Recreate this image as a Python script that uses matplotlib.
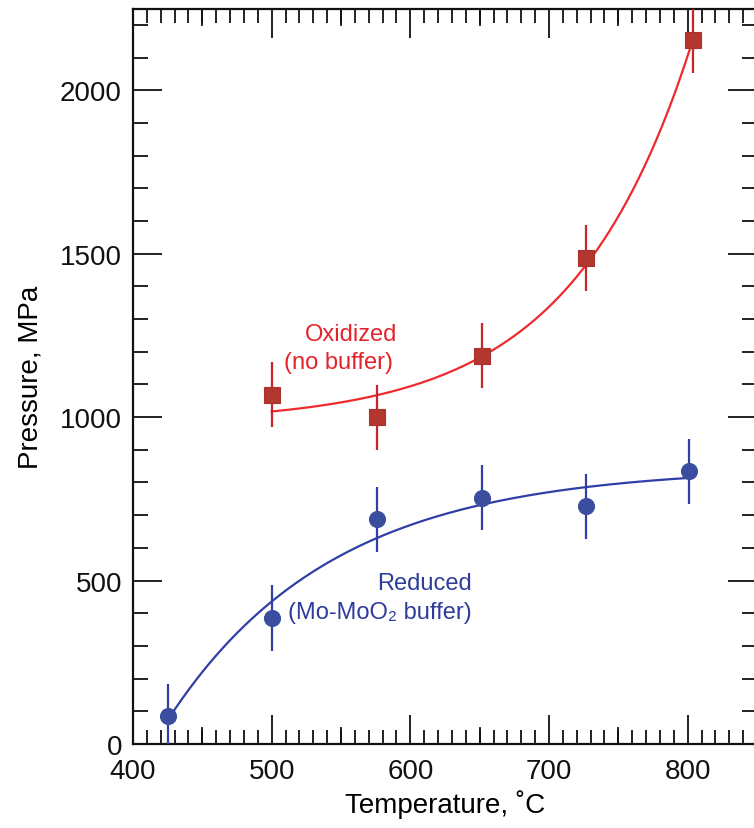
import numpy as np
import matplotlib
matplotlib.use("Agg")
import matplotlib.pyplot as plt
from matplotlib.ticker import MultipleLocator

plt.rcParams['font.family'] = ['Liberation Sans', 'DejaVu Sans']

# Oxidized runs (no buffer)
ox_temp = [500, 576, 652, 727, 804]
ox_pres = [1069, 999, 1188, 1487, 2153]
ox_err = [100, 100, 100, 100, 100]

# Reduced runs (Mo-MoO2 buffer)
red_temp = [425, 500, 576, 652, 727, 801]
red_pres = [85, 385, 687, 754, 727, 834]
red_err = [100, 100, 100, 100, 100, 100]

x_ticks = [400, 500, 600, 700, 800]
y_ticks = [0, 500, 1000, 1500, 2000]


def fit_exp(x, y, taus, sign):
    """Least-squares fit of y = A + B*exp(sign*(x - x0)/tau), scanning tau."""
    x = np.asarray(x, float)
    y = np.asarray(y, float)
    x0 = x.min()
    best = None
    for tau in taus:
        e = np.exp(sign * (x - x0) / tau)
        M = np.column_stack([np.ones_like(e), e])
        coef, *_ = np.linalg.lstsq(M, y, rcond=None)
        r = np.sum((M @ coef - y) ** 2)
        if best is None or r < best[0]:
            best = (r, tau, coef)
    _, tau, (a, b) = best
    return lambda t: a + b * np.exp(sign * (t - x0) / tau)


ox_fit = fit_exp(ox_temp, ox_pres, np.linspace(40, 200, 321), +1)
red_fit = fit_exp(red_temp, red_pres, np.linspace(40, 300, 521), -1)

W, H = 754, 829
fig = plt.figure(figsize=(W / 100, H / 100), dpi=100)
ax = fig.add_axes([133 / W, 1 - 745 / H, (757 - 133) / W, (745 - 9.5) / H])

ox_line = '#ee2a2e'
ox_face = '#b3362f'
red_line = '#2f3fa6'
red_face = '#3a4d9e'
ink = '#111111'

tt = np.linspace(min(ox_temp), max(ox_temp), 300)
ax.plot(tt, ox_fit(tt), color=ox_line, lw=1.6, zorder=2)
tt = np.linspace(min(red_temp), max(red_temp), 300)
ax.plot(tt, red_fit(tt), color=red_line, lw=1.6, zorder=2)

ax.errorbar(ox_temp, ox_pres, yerr=ox_err, fmt='s', ms=11.5, mfc=ox_face,
            mec='#a8322c', mew=0.8, ecolor='#c8242c', elinewidth=1.6,
            capsize=0, zorder=3)
ax.errorbar(red_temp, red_pres, yerr=red_err, fmt='o', ms=11.5, mfc=red_face,
            mec=red_face, mew=0.8, ecolor=red_line, elinewidth=1.6,
            capsize=0, zorder=3)

ax.set_xlim(400, 850)
ax.set_ylim(0, 2250)
ax.set_xticks(x_ticks)
ax.set_yticks(y_ticks)
ax.xaxis.set_minor_locator(MultipleLocator(10))
ax.yaxis.set_minor_locator(MultipleLocator(100))

ax.tick_params(which='both', direction='in', top=True, right=True,
               labelsize=20, width=1.3, colors=ink)
ax.tick_params(axis='x', which='major', length=21, pad=10)
ax.tick_params(axis='x', which='minor', length=10)
ax.tick_params(axis='y', which='major', length=21, pad=8)
ax.tick_params(axis='y', which='minor', length=11)

# intermediate ticks at every 50 degrees, bottom and top
mid_len = 16 / (745 - 9.5)  # in axes fraction
for xm in np.arange(450, 850, 100):
    ax.plot([xm, xm], [0, mid_len], color=ink, lw=1.3,
            transform=ax.get_xaxis_transform(), clip_on=False, zorder=1)
    ax.plot([xm, xm], [1, 1 - mid_len], color=ink, lw=1.3,
            transform=ax.get_xaxis_transform(), clip_on=False, zorder=1)

for s in ax.spines.values():
    s.set_linewidth(1.6)
    s.set_color(ink)

ax.set_xlabel('Temperature, ˚C', fontsize=20, labelpad=4)
ax.set_ylabel('Pressure, MPa', fontsize=20, labelpad=12)


def px(xp, yp):
    """Pixel position (from the top-left corner) to data coordinates."""
    return ax.transData.inverted().transform((xp, H - yp))


ox_col = '#e4222a'
red_col = '#2e3c9a'
ax.text(*px(351, 335), 'Oxidized', color=ox_col, fontsize=17,
        ha='center', va='center')
ax.text(*px(338, 363), '(no buffer)', color=ox_col, fontsize=17,
        ha='center', va='center')
ax.text(*px(472, 584), 'Reduced', color=red_col, fontsize=17,
        ha='right', va='center')
ax.text(*px(472, 613), '(Mo-MoO₂ buffer)', color=red_col, fontsize=17,
        ha='right', va='center')

fig.savefig('out.png', dpi=100)
